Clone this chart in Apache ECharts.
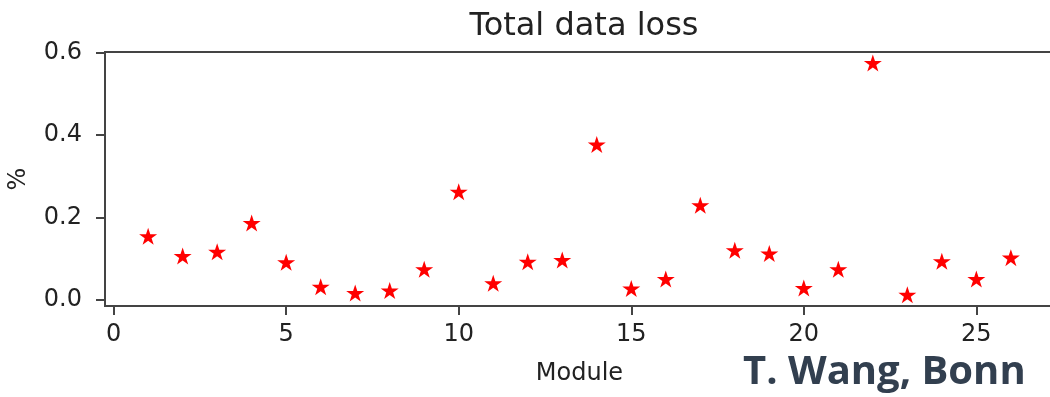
<!DOCTYPE html>
<html>
<head>
<meta charset="utf-8">
<script src="https://cdn.jsdelivr.net/npm/echarts@6/dist/echarts.min.js"></script>
<style>html,body{margin:0;padding:0;background:#fff}#c{width:1050px;height:397px}</style>
</head>
<body>
<div id="c"></div>
<script>
var modules = [1,2,3,4,5,6,7,8,9,10,11,12,13,14,15,16,17,18,19,20,21,22,23,24,25,26];
var dataLoss = [0.154,0.106,0.116,0.186,0.091,0.031,0.016,0.022,0.074,0.262,0.040,0.092,0.096,0.377,0.027,0.050,0.229,0.120,0.112,0.028,0.074,0.575,0.012,0.093,0.050,0.102];
var xTicks = [0,5,10,15,20,25];
var yTicks = [0,0.2,0.4,0.6];
var titleText = 'Total data loss';
var xName = 'Module';
var yName = '%';
var credit = 'T. Wang, Bonn';

var points = modules.map(function(m,i){return [m, dataLoss[i]];});
var star = 'path://M50 0 L61.23 34.55 L97.55 34.55 L68.17 55.9 L79.39 90.45 L50 69.1 L20.61 90.45 L31.83 55.9 L2.45 34.55 L38.77 34.55 Z';
var font = 'DejaVu Sans';
var txt = '#222222';
var axisCol = '#444444';

var chart = echarts.init(document.getElementById('c'), null, {renderer:'canvas'});
chart.setOption({
  animation:false,
  backgroundColor:'#ffffff',
  title:{text:titleText, left:579, top:6, textAlign:'center',
    textStyle:{fontFamily:font, fontSize:32, fontWeight:'normal', color:txt}},
  grid:{left:105, top:52, right:-4, bottom:91, show:true, borderColor:axisCol, borderWidth:2, backgroundColor:'transparent',
    containLabel:false, outerBoundsMode:'none'},
  xAxis:{type:'value', min:-0.25, max:27.25,
    name:xName, nameLocation:'middle', nameGap:56,
    nameTextStyle:{fontFamily:font, fontSize:24, color:txt},
    axisLine:{show:true, onZero:false, lineStyle:{color:axisCol, width:2}},
    axisTick:{show:true, length:9, inside:false, customValues:xTicks, lineStyle:{color:axisCol, width:2}},
    axisLabel:{customValues:xTicks, margin:17, fontFamily:font, fontSize:24, color:txt},
    splitLine:{show:false}},
  yAxis:{type:'value', min:-0.0155, max:0.6015,
    name:yName, nameLocation:'middle', nameGap:74,
    nameTextStyle:{fontFamily:font, fontSize:24, color:txt},
    axisLine:{show:true, onZero:false, lineStyle:{color:axisCol, width:2}},
    axisTick:{show:true, length:9, customValues:yTicks, lineStyle:{color:axisCol, width:2}},
    axisLabel:{customValues:yTicks, margin:23, fontFamily:font, fontSize:24, color:txt,
      formatter:function(v){return v.toFixed(1);}},
    splitLine:{show:false}},
  graphic:[{type:'text', left:743, top:353, z:100,
    style:{text:credit, font:'bold 40px "Open Sans"', fill:'#323F4F'}}],
  series:[{type:'scatter', data:points, symbol:star, symbolSize:[18,17],
    itemStyle:{color:'#ff0000', opacity:1}}]
});
</script>
</body>
</html>
